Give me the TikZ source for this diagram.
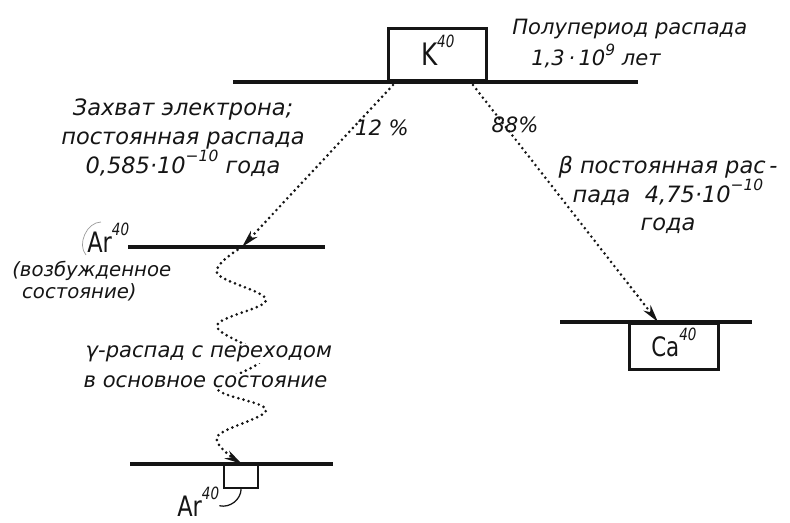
\documentclass[tikz,border=0pt]{standalone}
\usepackage{fontspec}
\usepackage{tikz}
\usetikzlibrary{arrows.meta,calc,positioning}
\setmainfont{DejaVu Sans}
\newfontfamily\isofont{DejaVu Sans}[FakeStretch=0.8]
\definecolor{Ink}{HTML}{151515}
\definecolor{Pencil}{HTML}{9C9C9C}
\newcommand{\nuc}[2]{#1\smash{\raisebox{0.6em}{\fontsize{12}{12}\selectfont\itshape #2}}}
\newcommand{\tenpow}[1]{10\smash{\raisebox{0.5em}{\fontsize{11}{11}\selectfont #1}}}
\tikzset{
  level/.style={Ink,line width=2.2pt},
  decay/.style={Ink,line width=2.1pt,line cap=round,dash pattern=on 0pt off 3.8pt,
    -{Stealth[length=4.4mm,width=2.2mm,inset=1.3mm]}},
  note/.style={Ink,inner sep=0pt,font=\itshape\fontsize{16}{20.5}\selectfont},
  isotope/.style={Ink,inner sep=0pt,font=\isofont\fontsize{20}{22}\selectfont},
  nucbox/.style={draw=Ink,line width=2pt,inner sep=0pt},
  pencil/.style={Pencil,line width=0.5pt},
}
\begin{document}
\begin{tikzpicture}[x=0.025cm,y=-0.025cm]
  \useasboundingbox (0,0) rectangle (790,522);
  % levels
  \coordinate (kL) at (233,82);  \coordinate (kR) at (638,82);
  \coordinate (exL) at (128,247); \coordinate (exR) at (325,247);
  \coordinate (caL) at (560,322); \coordinate (caR) at (752,322);
  \coordinate (gnL) at (130,464); \coordinate (gnR) at (333,464);
  \draw[level] (kL) -- (kR);
  \draw[level] (exL) -- (exR);
  \draw[level] (caL) -- (caR);
  \draw[level] (gnL) -- (gnR);
  % boxes
  \node[nucbox,line width=2.4pt,isotope,font=\isofont\fontsize{22}{24}\selectfont,
    minimum width=2.45cm,minimum height=1.3cm,anchor=south west] (kbox) at (387,82) {\nuc{K}{40}};
  \node[nucbox,isotope,font=\isofont\fontsize{19}{22}\selectfont,
    minimum width=2.225cm,minimum height=1.15cm,anchor=north west] (cabox) at (628,322) {\nuc{Ca}{40}};
  \node[nucbox,line width=1.6pt,minimum width=0.85cm,minimum height=0.575cm,
    anchor=north west] (gnbox) at (223,464) {};
  % end points on the levels
  \coordinate (kcapt) at (393,85);
  \coordinate (kbeta) at (473,85);
  \coordinate (exhit) at (242,247);
  \coordinate (cahit) at (658,322);
  \coordinate (gnhit) at (242,464);
  \draw[decay] (kcapt) -- (exhit);
  \draw[decay] (kbeta) -- (cahit);
  \draw[decay] plot[smooth,tension=0.6] coordinates
    {(exhit) (217,273) (266,300) (217,326) (262,358) (217,388) (266,410) (217,437) (gnhit)};
  % texts
  \node[note,font=\itshape\fontsize{15}{22}\selectfont,align=left,anchor=north west] (halflife) at (512,13)
    {\strut Полупериод распада\\\hspace*{0.9em}1,3\,·\,\tenpow{9}\ лет};
  \node[note,align=center,anchor=north] (capture) at (183,95)
    {\strut Захват электрона;\\постоянная распада\\0,585·\tenpow{−10} года};
  \node[note,font=\itshape\fontsize{16}{20}\selectfont,align=center,anchor=north] (beta) at (668,154)
    {\strut β постоянная рас\,-\\пада\ \ 4,75·\tenpow{−10}\\года};
  \node[note,font=\itshape\fontsize{15}{15}\selectfont,anchor=base] (pcapt) at (382,135) {12 \%};
  \node[note,font=\itshape\fontsize{15}{15}\selectfont,anchor=base] (pbeta) at (515,132) {88\%};
  \node[isotope,anchor=base west] (arexc) at (87,252) {\nuc{Ar}{40}};
  \node[note,font=\itshape\fontsize{14}{16}\selectfont,align=left,anchor=north west] (excited) at (12,260)
    {\strut (возбужденное\\\hspace*{0.5em}состояние)};
  \node[note,font=\itshape\fontsize{15}{15}\selectfont,fill=white,inner sep=1pt,anchor=base west] (gammaA) at (84,357)
    {γ-распад с переходом};
  \node[note,font=\itshape\fontsize{15}{15}\selectfont,fill=white,inner sep=1pt,anchor=base west] (gammaB) at (82,387)
    {в основное состояние};
  \node[isotope,anchor=base west] (argnd) at (177,516) {\nuc{Ar}{40}};
  % pencil marks
  \draw[pencil] (101,222) to[bend right=65] (86,255);
  \draw[Ink,line width=0.9pt] (gnbox.south) to[bend left=50] (argnd.east);
\end{tikzpicture}
\end{document}
